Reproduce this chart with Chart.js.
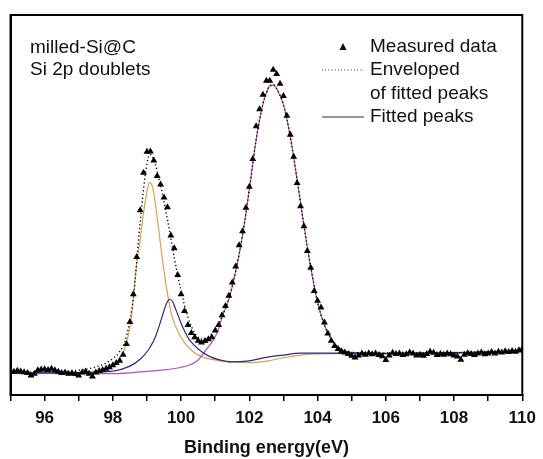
<!DOCTYPE html>
<html lang="en">
<head>
    <meta charset="UTF-8">
    <script src="https://cdn.jsdelivr.net/npm/chart.js"></script>
    <style>
        body, html {
            margin: 0;
            padding: 0;
            background: #fff;
        }
        #wrap {
            width: 543px;
            height: 459px;
        }
    </style>
</head>
<body>
    <div id="wrap"><canvas id="xps"></canvas></div>
    <script>
        // measured Si 2p spectrum (binding energy in eV, intensity in a.u.)
        const energy = [
            95.0, 95.1, 95.2, 95.3, 95.4, 95.5, 95.6, 95.7, 95.8, 95.9,
            96.0, 96.1, 96.2, 96.3, 96.4, 96.5, 96.6, 96.7, 96.8, 96.9,
            97.0, 97.1, 97.2, 97.3, 97.4, 97.5, 97.6, 97.7, 97.8, 97.9,
            98.0, 98.1, 98.2, 98.3, 98.4, 98.5, 98.6, 98.7, 98.8, 98.9,
            99.0, 99.1, 99.2, 99.3, 99.4, 99.5, 99.6, 99.7, 99.8, 99.9,
            100.0, 100.1, 100.2, 100.3, 100.4, 100.5, 100.6, 100.7, 100.8, 100.9,
            101.0, 101.1, 101.2, 101.3, 101.4, 101.5, 101.6, 101.7, 101.8, 101.9,
            102.0, 102.1, 102.2, 102.3, 102.4, 102.5, 102.6, 102.7, 102.8, 102.9,
            103.0, 103.1, 103.2, 103.3, 103.4, 103.5, 103.6, 103.7, 103.8, 103.9,
            104.0, 104.1, 104.2, 104.3, 104.4, 104.5, 104.6, 104.7, 104.8, 104.9,
            105.0, 105.1, 105.2, 105.3, 105.4, 105.5, 105.6, 105.7, 105.8, 105.9,
            106.0, 106.1, 106.2, 106.3, 106.4, 106.5, 106.6, 106.7, 106.8, 106.9,
            107.0, 107.1, 107.2, 107.3, 107.4, 107.5, 107.6, 107.7, 107.8, 107.9,
            108.0, 108.1, 108.2, 108.3, 108.4, 108.5, 108.6, 108.7, 108.8, 108.9,
            109.0, 109.1, 109.2, 109.3, 109.4, 109.5, 109.6, 109.7, 109.8, 109.9,
            110.0
        ];
        const measured = [
            6.3, 6.1, 6.4, 6.2, 6.0, 5.8, 5.1, 5.6, 6.5, 6.7,
            6.8, 6.6, 6.9, 6.5, 6.1, 5.8, 5.9, 5.6, 5.7, 5.5,
            5.1, 5.9, 6.2, 5.6, 4.9, 5.9, 6.3, 6.6, 6.9, 7.3,
            7.8, 8.4, 9.0, 10.6, 13.4, 19.2, 26.5, 36.3, 48.6, 58.5,
            64.0, 64.1, 61.7, 57.6, 55.4, 52.0, 49.4, 42.0, 38.6, 31.6,
            26.5, 22.1, 18.4, 16.3, 15.2, 14.3, 13.8, 14.2, 14.7, 15.2,
            17.0, 18.4, 21.0, 23.4, 26.1, 29.6, 33.8, 39.4, 43.1, 49.3,
            54.8, 62.1, 70.7, 75.2, 79.0, 82.7, 82.7, 85.6, 84.5, 81.9,
            78.7, 73.5, 68.5, 62.7, 55.8, 49.7, 44.4, 37.9, 33.5, 27.4,
            24.8, 23.0, 19.1, 16.2, 14.3, 12.9, 12.1, 11.5, 11.2, 10.8,
            10.3, 9.9, 10.4, 10.9, 10.6, 11.0, 10.7, 10.9, 10.5, 10.2,
            9.2, 10.4, 11.1, 10.8, 10.9, 10.5, 10.7, 11.2, 10.9, 10.4,
            10.6, 10.3, 10.8, 11.4, 11.1, 10.5, 10.8, 10.6, 10.9, 10.7,
            10.4, 10.1, 9.3, 10.6, 11.0, 10.8, 10.5, 10.9, 11.2, 10.7,
            10.9, 11.3, 10.9, 11.4, 11.2, 11.5, 11.3, 11.6, 11.4, 11.8,
            12.1
        ];

        // envelope of the fitted peaks
        const envX = [95.0, 96.0, 97.0, 97.5, 97.8, 98.0, 98.2, 98.4, 98.6, 98.8, 99.0, 99.1, 99.2, 99.4, 99.6, 99.8,
            100.0, 100.2, 100.4, 100.6, 100.8, 101.0, 101.2, 101.4, 101.6, 101.8, 102.0, 102.2, 102.4, 102.5, 102.6,
            102.7, 102.8, 103.0, 103.2, 103.4, 103.6, 103.8, 104.0, 104.2, 104.4, 104.6, 104.8, 105.0, 106.0, 108.0, 110.0];
        const envY = [6.0, 6.1, 6.5, 7.4, 8.4, 9.6, 11.4, 15.5, 25.5, 45.5, 61.0, 63.3, 61.9, 55.1, 46.2, 36.2,
            27.3, 20.5, 16.3, 14.7, 15.2, 17.3, 20.7, 25.4, 32.6, 42.0, 54.1, 67.2, 76.6, 79.5, 81.4,
            81.6, 80.6, 76.4, 68.0, 56.7, 44.6, 33.6, 24.4, 18.4, 14.7, 12.6, 11.5, 11.2, 11.0, 11.1, 11.5];

        // fitted component 1 (Si 2p, low BE, yellow)
        const peak1X = [95.0, 97.0, 97.5, 97.9, 98.2, 98.34, 98.49, 98.59, 98.68, 98.8, 98.9, 99.0, 99.04, 99.08,
            99.13, 99.18, 99.28, 99.38, 99.46, 99.58, 99.73, 99.97, 100.26, 100.55, 101.0, 101.5, 102.0, 102.5,
            103.0, 103.5, 104.0, 104.5, 106.0, 110.0];
        const peak1Y = [5.6, 5.8, 6.2, 7.3, 9.4, 12.1, 17.3, 24.4, 33.1, 40.9, 48.0, 53.6, 55.2, 55.9,
            55.5, 54.1, 48.0, 40.9, 35.2, 27.8, 20.8, 15.6, 12.1, 10.3, 9.2, 8.7, 8.5, 8.9,
            9.8, 10.5, 10.8, 10.9, 10.9, 11.4];

        // fitted component 2 (navy)
        const peak2X = [95.0, 97.0, 98.0, 98.5, 98.8, 99.06, 99.26, 99.45, 99.56, 99.66, 99.75, 99.84, 99.94,
            100.03, 100.13, 100.23, 100.5, 100.8, 101.1, 101.5, 102.0, 102.5, 103.0, 103.5, 104.5, 106.0, 110.0];
        const peak2Y = [5.8, 5.9, 6.3, 7.6, 9.4, 12.1, 15.6, 20.8, 23.8, 25.2, 24.6, 22.6, 20.3,
            18.2, 16.3, 14.7, 12.1, 10.3, 9.3, 8.7, 9.0, 9.9, 10.5, 11.0, 11.0, 10.9, 11.4];

        // fitted component 3 (purple, high BE)
        const peak3X = [95.0, 97.0, 98.0, 99.0, 99.5, 100.0, 100.3, 100.5, 100.7, 100.9, 101.1, 101.2, 101.4, 101.6,
            101.8, 102.0, 102.2, 102.4, 102.5, 102.6, 102.7, 102.8, 103.0, 103.2, 103.4, 103.6, 103.8, 104.0,
            104.2, 104.4, 104.6, 104.8, 105.0, 105.5, 106.0, 110.0];
        const peak3Y = [5.8, 5.6, 5.6, 6.2, 6.6, 7.3, 8.1, 9.2, 11.5, 13.9, 17.3, 20.5, 25.2, 32.5,
            42.0, 54.1, 67.2, 76.6, 79.5, 81.4, 81.6, 80.6, 76.4, 68.0, 56.7, 44.6, 33.6, 24.4,
            18.4, 14.7, 12.6, 11.5, 11.2, 11.0, 11.0, 11.5];

        const xTicksMin = 95;
        const xTicksMax = 110;

        function pts(xs, ys) {
            return xs.map((x, i) => ({ x: x, y: ys[i] }));
        }

        const FONT = 'Arial, "Liberation Sans", sans-serif';

        // frame, sample label and hand made legend
        const decorations = {
            id: 'decorations',
            afterDraw(chart) {
                const ctx = chart.ctx;
                const a = chart.chartArea;
                ctx.save();
                ctx.strokeStyle = '#000';
                ctx.lineWidth = 2;
                ctx.strokeRect(a.left, a.top, a.right - a.left, a.bottom - a.top);

                ctx.fillStyle = '#111';
                ctx.font = '19px ' + FONT;
                ctx.textBaseline = 'middle';
                ctx.textAlign = 'left';
                ctx.fillText('milled-Si@C', 30, 48);
                ctx.fillText('Si 2p doublets', 30, 70);

                ctx.fillText('Measured data', 370, 47);
                ctx.fillText('Enveloped', 370, 70);
                ctx.fillText('of fitted peaks', 370, 93.5);
                ctx.fillText('Fitted peaks', 370, 117);

                // triangle symbol
                ctx.beginPath();
                ctx.moveTo(343, 43);
                ctx.lineTo(346.5, 50);
                ctx.lineTo(339.5, 50);
                ctx.closePath();
                ctx.fill();

                ctx.strokeStyle = '#333';
                ctx.lineWidth = 1.2;
                ctx.setLineDash([1, 2.2]);
                ctx.beginPath();
                ctx.moveTo(322, 70);
                ctx.lineTo(364, 70);
                ctx.stroke();
                ctx.setLineDash([]);
                ctx.strokeStyle = '#333';
                ctx.beginPath();
                ctx.moveTo(322, 117);
                ctx.lineTo(364, 117);
                ctx.stroke();
                ctx.restore();
            }
        };

        new Chart(document.getElementById('xps'), {
            type: 'scatter',
            data: {
                datasets: [
                    {
                        label: 'Measured data',
                        data: pts(energy, measured),
                        pointStyle: 'triangle',
                        pointRadius: 4,
                        backgroundColor: '#000',
                        borderColor: '#000',
                        borderWidth: 0,
                        order: 0
                    },
                    {
                        label: 'Enveloped of fitted peaks',
                        data: pts(envX, envY),
                        showLine: true,
                        pointRadius: 0,
                        borderColor: '#000',
                        borderWidth: 1.4,
                        borderDash: [1.2, 2.6],
                        cubicInterpolationMode: 'monotone',
                        order: 1
                    },
                    {
                        label: 'Fitted peak 1',
                        data: pts(peak1X, peak1Y),
                        showLine: true,
                        pointRadius: 0,
                        borderColor: '#d6a451',
                        borderWidth: 1.2,
                        cubicInterpolationMode: 'monotone',
                        order: 3
                    },
                    {
                        label: 'Fitted peak 2',
                        data: pts(peak2X, peak2Y),
                        showLine: true,
                        pointRadius: 0,
                        borderColor: '#2e2a7e',
                        borderWidth: 1.2,
                        cubicInterpolationMode: 'monotone',
                        order: 2
                    },
                    {
                        label: 'Fitted peak 3',
                        data: pts(peak3X, peak3Y),
                        showLine: true,
                        pointRadius: 0,
                        borderColor: '#b255b4',
                        borderWidth: 1.2,
                        cubicInterpolationMode: 'monotone',
                        order: 2
                    }
                ]
            },
            options: {
                responsive: true,
                maintainAspectRatio: false,
                animation: false,
                layout: {
                    autoPadding: false,
                    padding: { left: 2.5, top: 15, right: 16.5, bottom: 0 }
                },
                plugins: {
                    legend: { display: false },
                    tooltip: { enabled: false }
                },
                scales: {
                    x: {
                        type: 'linear',
                        min: xTicksMin,
                        max: xTicksMax,
                        grid: {
                            display: true,
                            drawOnChartArea: false,
                            drawTicks: true,
                            tickLength: 6,
                            color: '#000',
                            lineWidth: 1.5
                        },
                        border: { display: true, color: '#000', width: 2 },
                        ticks: {
                            stepSize: 1,
                            autoSkip: false,
                            maxRotation: 0,
                            padding: 7,
                            color: '#111',
                            font: { family: FONT, size: 17, weight: 'bold' },
                            callback: v => (v % 2 === 0 ? v : '')
                        },
                        title: {
                            display: true,
                            text: 'Binding energy(eV)',
                            color: '#111',
                            font: { family: FONT, size: 18, weight: 'bold' },
                            padding: { top: 2, bottom: 0 }
                        }
                    },
                    y: {
                        min: 0,
                        max: 100,
                        grid: { display: false },
                        border: { display: true, color: '#000', width: 2 },
                        ticks: { display: false }
                    }
                }
            },
            plugins: [decorations]
        });
    </script>
</body>
</html>
